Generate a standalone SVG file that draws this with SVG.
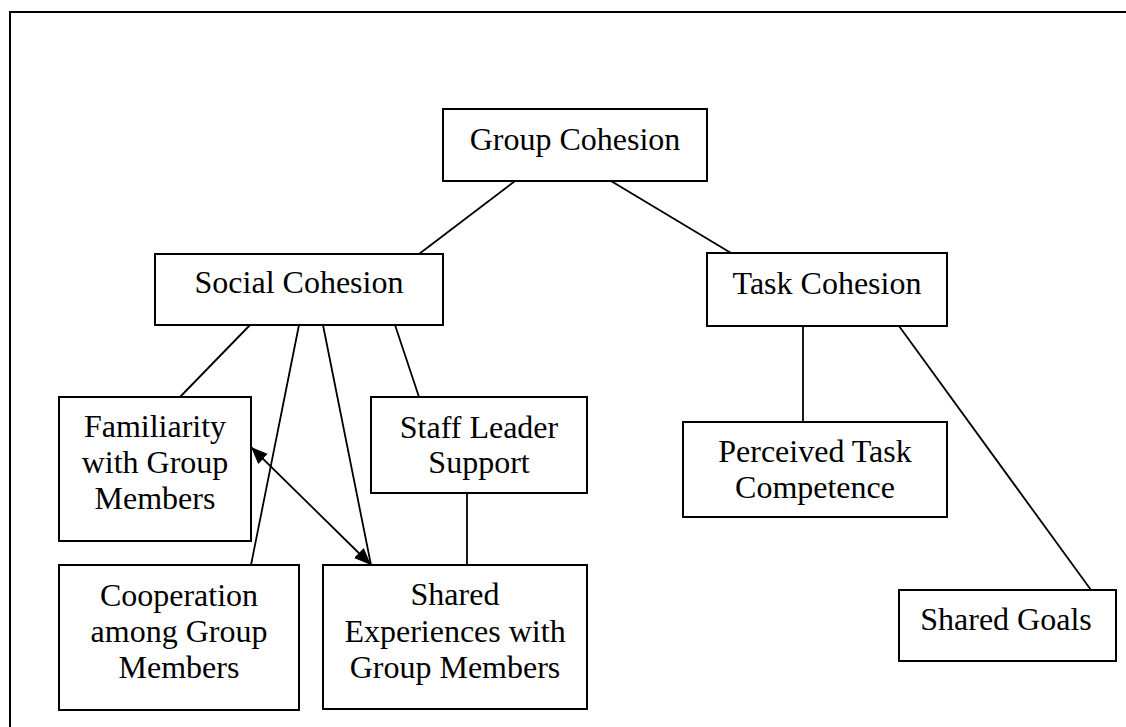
<svg xmlns="http://www.w3.org/2000/svg" width="1126" height="727" viewBox="0 0 1126 727">
<style>
.box{fill:#fff;stroke:#000;stroke-width:2}
.lbl{font-family:"Liberation Serif","Times New Roman",serif;font-size:32px;fill:#000;text-anchor:middle}
.con line{stroke:#000;stroke-width:1.8;fill:none}
</style>
<defs>
<marker id="ah" markerUnits="userSpaceOnUse" markerWidth="18" markerHeight="14" refX="17" refY="7" orient="auto-start-reverse">
<path d="M0,0 L17,7 L0,14 Z" fill="#000"/>
</marker>
</defs>
<rect x="0" y="0" width="1126" height="727" fill="#fff"/>
<rect id="frame" x="10" y="12" width="1130" height="730" fill="none" stroke="#000" stroke-width="2"/>
<g id="connectors" class="con">
<line x1="515" y1="181" x2="419" y2="254"/>
<line x1="611" y1="181" x2="731" y2="253"/>
<line x1="250" y1="325" x2="180" y2="397"/>
<line x1="299" y1="325" x2="251" y2="565"/>
<line x1="323" y1="325" x2="371" y2="565"/>
<line x1="395" y1="325" x2="419" y2="397"/>
<line x1="467" y1="493" x2="467" y2="565"/>
<line x1="803" y1="326" x2="803" y2="422"/>
<line x1="899" y1="326" x2="1091" y2="590"/>
<line x1="251" y1="447" x2="371" y2="565" marker-start="url(#ah)" marker-end="url(#ah)"/>
</g>
<g id="group-cohesion">
<rect class="box" x="443" y="109" width="264" height="72"/>
<text class="lbl" x="575" y="150">Group Cohesion</text>
</g>
<g id="social-cohesion">
<rect class="box" x="155" y="254" width="288" height="71"/>
<text class="lbl" x="299" y="293">Social Cohesion</text>
</g>
<g id="task-cohesion">
<rect class="box" x="707" y="253" width="240" height="73"/>
<text class="lbl" x="827" y="294">Task Cohesion</text>
</g>
<g id="familiarity">
<rect class="box" x="59" y="397" width="192" height="144"/>
<text class="lbl" x="155" y="437">Familiarity</text>
<text class="lbl" x="155" y="473">with Group</text>
<text class="lbl" x="155" y="509">Members</text>
</g>
<g id="staff-leader">
<rect class="box" x="371" y="397" width="216" height="96"/>
<text class="lbl" x="479" y="438">Staff Leader</text>
<text class="lbl" x="479" y="473">Support</text>
</g>
<g id="cooperation">
<rect class="box" x="59" y="565" width="240" height="145"/>
<text class="lbl" x="179" y="606">Cooperation</text>
<text class="lbl" x="179" y="642">among Group</text>
<text class="lbl" x="179" y="678">Members</text>
</g>
<g id="shared-experiences">
<rect class="box" x="323" y="565" width="264" height="144"/>
<text class="lbl" x="455" y="605">Shared</text>
<text class="lbl" x="455" y="642">Experiences with</text>
<text class="lbl" x="455" y="678">Group Members</text>
</g>
<g id="perceived-task">
<rect class="box" x="683" y="422" width="264" height="95"/>
<text class="lbl" x="815" y="462">Perceived Task</text>
<text class="lbl" x="815" y="498">Competence</text>
</g>
<g id="shared-goals">
<rect class="box" x="899" y="590" width="217" height="71"/>
<text class="lbl" x="1006" y="630">Shared Goals</text>
</g>
</svg>
